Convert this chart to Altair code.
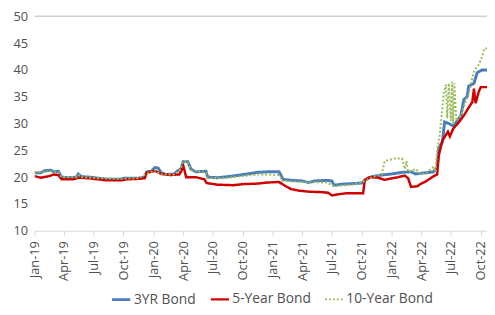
import altair as alt
import pandas as pd

# ---- data ----
y3_dates = ["2019-01-01","2019-01-20","2019-02-01","2019-02-20","2019-03-01","2019-03-15","2019-03-25",
            "2019-04-15","2019-05-10","2019-05-15","2019-05-25","2019-06-20","2019-07-15","2019-08-15",
            "2019-09-20","2019-10-01","2019-11-15","2019-12-05","2019-12-12","2019-12-25","2020-01-05",
            "2020-01-15","2020-01-25","2020-02-10","2020-03-05","2020-03-15","2020-03-25","2020-04-01",
            "2020-04-15","2020-04-25","2020-05-10","2020-06-10","2020-06-15","2020-07-15","2020-08-30",
            "2020-10-15","2020-11-15","2020-12-15","2021-01-20","2021-01-25","2021-02-01","2021-03-01",
            "2021-04-01","2021-04-20","2021-05-10","2021-06-15","2021-07-01","2021-07-08","2021-08-01",
            "2021-09-01","2021-10-01","2021-10-15","2021-11-01","2021-12-01","2022-01-01","2022-02-01",
            "2022-03-01","2022-03-15","2022-04-10","2022-05-10","2022-05-20","2022-05-25","2022-06-05",
            "2022-06-12","2022-06-25","2022-07-10","2022-07-20","2022-08-01","2022-08-10","2022-08-20",
            "2022-08-25","2022-09-10","2022-09-20","2022-10-05","2022-10-20"]
y3_vals = [20.8,20.8,21.2,21.3,21.0,21.1,20.0,
           19.9,20.0,20.6,20.1,20.0,19.8,19.6,
           19.6,19.8,19.8,20.0,21.0,21.1,21.8,
           21.7,20.8,20.5,20.6,21.2,21.5,22.9,
           22.9,21.5,21.0,21.1,20.0,19.9,20.2,
           20.6,20.9,21.0,21.0,20.5,19.6,19.4,
           19.3,19.0,19.3,19.4,19.3,18.5,18.7,
           18.8,18.9,19.6,20.1,20.4,20.6,20.9,
           21.0,20.6,20.8,21.0,22.0,25.5,26.5,
           30.3,30.0,29.5,30.5,31.5,34.5,35.0,
           37.0,37.5,39.5,40.0,40.0]

y5_dates = ["2019-01-01","2019-01-20","2019-02-15","2019-03-01","2019-03-15","2019-03-25","2019-05-01",
            "2019-05-15","2019-06-15","2019-07-15","2019-08-10","2019-09-25","2019-10-10","2019-11-20",
            "2019-12-05","2019-12-10","2020-01-05","2020-01-25","2020-02-20","2020-03-20","2020-03-25",
            "2020-04-01","2020-04-06","2020-04-10","2020-05-10","2020-06-05","2020-06-12","2020-07-15",
            "2020-09-01","2020-10-01","2020-11-15","2020-12-15","2021-01-20","2021-02-10","2021-02-25",
            "2021-03-20","2021-04-20","2021-06-01","2021-06-20","2021-07-01","2021-07-20","2021-08-15",
            "2021-10-05","2021-10-10","2021-10-25","2021-11-20","2021-12-10","2021-12-25","2022-01-20",
            "2022-02-10","2022-02-20","2022-03-01","2022-03-20","2022-04-01","2022-04-15","2022-05-10",
            "2022-05-20","2022-05-25","2022-06-05","2022-06-15","2022-06-22","2022-06-28","2022-07-08",
            "2022-07-25","2022-08-10","2022-08-25","2022-09-05","2022-09-10","2022-09-15","2022-09-25",
            "2022-10-01","2022-10-20"]
y5_vals = [20.2,19.9,20.2,20.5,20.4,19.6,19.6,
           19.9,19.8,19.6,19.4,19.4,19.6,19.7,
           19.8,20.8,21.2,20.6,20.4,20.5,21.0,
           22.2,21.0,20.0,20.0,19.6,18.9,18.6,
           18.5,18.7,18.8,19.0,19.1,18.3,17.8,
           17.5,17.3,17.2,17.1,16.6,16.8,17.0,
           17.0,19.5,20.0,19.9,19.5,19.7,20.0,
           20.3,19.8,18.2,18.3,18.8,19.2,20.2,
           20.5,24.0,26.8,27.8,28.5,27.6,29.0,
           30.2,31.5,33.0,34.0,36.5,33.8,36.0,
           36.8,36.8]

y10_dates = ["2019-01-01","2019-02-01","2019-02-20","2019-03-15","2019-03-25","2019-05-10","2019-05-15",
             "2019-05-25","2019-07-15","2019-09-20","2019-11-15","2019-12-10","2020-01-05","2020-01-25",
             "2020-03-05","2020-03-25","2020-04-01","2020-04-15","2020-04-25","2020-06-10","2020-06-15",
             "2020-08-01","2020-10-01","2020-11-15","2021-01-20","2021-02-01","2021-04-01","2021-06-15",
             "2021-07-08","2021-09-01","2021-10-10","2021-11-01","2021-12-01","2021-12-10","2022-01-10",
             "2022-02-01","2022-02-10","2022-02-15","2022-02-20","2022-03-15","2022-04-01","2022-04-20",
             "2022-05-10","2022-05-15","2022-05-20","2022-05-28","2022-06-02","2022-06-10","2022-06-16",
             "2022-06-20","2022-06-25","2022-07-01","2022-07-05","2022-07-08","2022-07-12","2022-07-18",
             "2022-08-01","2022-08-15","2022-08-25",
             "2022-09-05","2022-09-12","2022-09-25","2022-10-05","2022-10-12","2022-10-20"]
y10_vals = [20.9,21.0,21.1,20.9,20.0,20.0,20.4,
            20.0,19.8,19.7,19.8,20.6,21.3,20.5,
            20.5,21.5,23.0,22.8,21.3,20.8,19.9,
            19.8,20.2,20.5,20.4,19.3,19.1,19.0,
            18.3,18.6,19.3,20.0,20.5,23.0,23.5,
            23.5,21.5,23.0,21.0,21.5,20.5,21.0,
            22.0,21.0,25.0,28.0,31.0,36.0,37.3,
            31.0,37.5,30.5,37.8,30.0,37.5,30.5,
            31.5,34.0,35.5,
            38.5,40.0,41.0,42.5,44.0,44.0]

series_names = ["3YR Bond", "5-Year Bond", "10-Year Bond"]
series_colors = ["#4A7EBB", "#D00000", "#9BBB59"]
y_ticks = [10, 15, 20, 25, 30, 35, 40, 45, 50]

rows = []
for name, ds, vs in [(series_names[0], y3_dates, y3_vals),
                     (series_names[1], y5_dates, y5_vals),
                     (series_names[2], y10_dates, y10_vals)]:
    for d, v in zip(ds, vs):
        rows.append({"date": d, "value": v, "series": name})
df = pd.DataFrame(rows)

FONT = "Open Sans"
GREY = "#505050"
FS = 13

y_scale = alt.Scale(domain=[10, 50], nice=False)
y_axis = alt.Axis(title=None, values=y_ticks, labelFont=FONT, labelFontSize=FS,
                  labelColor=GREY, domain=False, ticks=False, grid=False,
                  labelPadding=7, labelOverlap=False)

x_enc = alt.X("date:T",
              scale=alt.Scale(domain=["2019-01-01", "2022-10-20"], nice=False),
              axis=alt.Axis(title=None, format="%b-%y",
                            tickCount={"interval": "month", "step": 3},
                            labelAngle=-90, labelFont=FONT, labelFontSize=FS,
                            labelColor=GREY, domainColor="#D9D9D9", tickColor="#D9D9D9",
                            tickSize=5, grid=False, labelPadding=5, labelOverlap=False))

lines = alt.Chart(df).mark_line(interpolate="linear", clip=True).encode(
    x=x_enc,
    y=alt.Y("value:Q", scale=y_scale, axis=y_axis),
    color=alt.Color("series:N", scale=alt.Scale(domain=series_names, range=series_colors),
                    sort=series_names,
                    legend=alt.Legend(title=None, orient="none", direction="horizontal",
                                      legendX=77, legendY=277, labelFont=FONT,
                                      labelFontSize=14, labelColor=GREY, symbolType="stroke",
                                      symbolSize=340, columnPadding=10, labelOffset=2)),
    strokeDash=alt.StrokeDash("series:N", scale=alt.Scale(domain=series_names,
                                                          range=[[1, 0], [1, 0], [2, 2]]),
                              sort=series_names, legend=None),
    strokeWidth=alt.StrokeWidth("series:N", scale=alt.Scale(domain=series_names,
                                                            range=[3, 2, 1.5]),
                                sort=series_names, legend=None),
    order=alt.Order("date:T"),
)

top_rule = alt.Chart(pd.DataFrame({"v": [50]})).mark_rule(color="#D0D0D0", strokeWidth=1.5).encode(
    y=alt.Y("v:Q", scale=y_scale, axis=y_axis))

chart = alt.layer(top_rule, lines).properties(
    width=460, height=218,
    padding={"left": 27, "top": 6, "right": 0, "bottom": 75},
    autosize=alt.AutoSizeParams(type="none"),
).configure(background="white").configure_view(stroke=None)

chart.save("out.html", embed_options={"renderer": "svg", "actions": False})
